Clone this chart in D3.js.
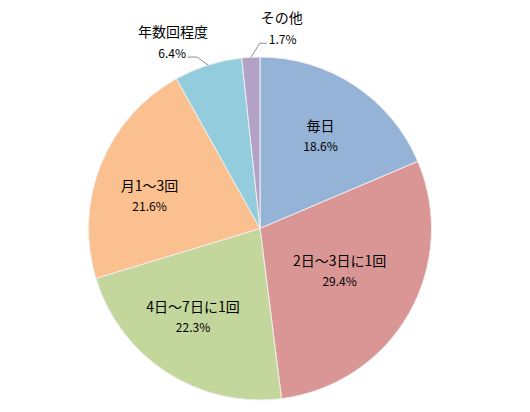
<!DOCTYPE html>
<html>
<head>
<meta charset="utf-8">
<script src="https://cdn.jsdelivr.net/npm/d3@7"></script>
<style>
  body { margin: 0; background: #fff; }
  svg text { font-family: "Noto Sans CJK JP", "Noto Sans", sans-serif; fill: #000; }
</style>
</head>
<body>
<svg id="chart" width="530" height="412"></svg>
<script>
// Chart data
const categories = ['毎日', '2日～3日に1回', '4日～7日に1回', '月1～3回', '年数回程度', 'その他'];
const shares = [18.6, 29.4, 22.3, 21.6, 6.4, 1.7];
const colors = ['#95B3D7', '#D99694', '#C3D69B', '#FAC090', '#93CDDD', '#B3A2C7'];

// Label layout: inside labels sit at a fraction of the radius (with a small
// angular nudge in degrees), small slices get their label outside with a leader line
const inside = {
  '毎日': {r: 0.64, turn: 0},
  '2日～3日に1回': {r: 0.53, turn: -1},
  '4日～7日に1回': {r: 0.65, turn: 4},
  '月1～3回': {r: 0.67, turn: -6}
};
const outside = {
  '年数回程度': {dx: -11, dy: -8, run: -9},
  'その他': {dx: 9, dy: -14, run: 7}
};

const svg = d3.select('#chart');
const cx = 260, cy = 228.5, radius = 171.5;

const data = categories.map((c, i) => ({name: c, value: shares[i], color: colors[i]}));

const pie = d3.pie().sort(null).value(d => d.value);
const arc = d3.arc().innerRadius(0).outerRadius(radius);
const edgeArc = d3.arc().innerRadius(radius).outerRadius(radius);
const labelPos = d => {
  const o = inside[d.data.name];
  const r = radius * o.r;
  const t = o.turn * Math.PI / 180;
  return d3.arc().innerRadius(r).outerRadius(r)
    .centroid({startAngle: d.startAngle + t, endAngle: d.endAngle + t});
};

const g = svg.append('g').attr('transform', `translate(${cx},${cy})`);

const arcs = pie(data);

// Slices
g.selectAll('path.slice')
  .data(arcs)
  .enter()
  .append('path')
    .attr('class', 'slice')
    .attr('d', arc)
    .attr('fill', d => d.data.color)
    .attr('stroke', '#eeeeee')
    .attr('stroke-width', 1);

// Inside labels
const inner = arcs.filter(d => inside[d.data.name]);
const lab = g.selectAll('g.label')
  .data(inner)
  .enter()
  .append('g')
    .attr('class', 'label')
    .attr('transform', d => `translate(${labelPos(d)})`);

lab.append('text')
  .attr('text-anchor', 'middle')
  .attr('y', -6)
  .attr('font-size', 14)
  .text(d => d.data.name);

lab.append('text')
  .attr('text-anchor', 'middle')
  .attr('y', 14)
  .attr('font-size', 12)
  .text(d => d.data.value.toFixed(1) + '%');

// Outside labels with leader lines
arcs.filter(d => outside[d.data.name]).forEach(d => {
  const o = outside[d.data.name];
  const [ex, ey] = edgeArc.centroid(d);
  const bx = ex + o.dx, by = ey + o.dy;
  const tx = bx + o.run;
  g.append('polyline')
    .attr('points', [[ex, ey], [bx, by], [tx, by]].map(p => p.join(',')).join(' '))
    .attr('fill', 'none')
    .attr('stroke', '#8c8c8c')
    .attr('stroke-width', 1);
  const anchor = o.run < 0 ? 'end' : 'start';
  const px = tx + (o.run < 0 ? -2 : 2);
  g.append('text')
    .attr('x', px)
    .attr('y', by + 1)
    .attr('text-anchor', anchor)
    .attr('font-size', 12)
    .text(d.data.value.toFixed(1) + '%');
  // Category name sits above, centred over the percentage
  g.append('text')
    .attr('x', o.run < 0 ? px - 13 : px + 13)
    .attr('y', by - 20)
    .attr('text-anchor', 'middle')
    .attr('font-size', 14)
    .text(d.data.name);
});
</script>
</body>
</html>
